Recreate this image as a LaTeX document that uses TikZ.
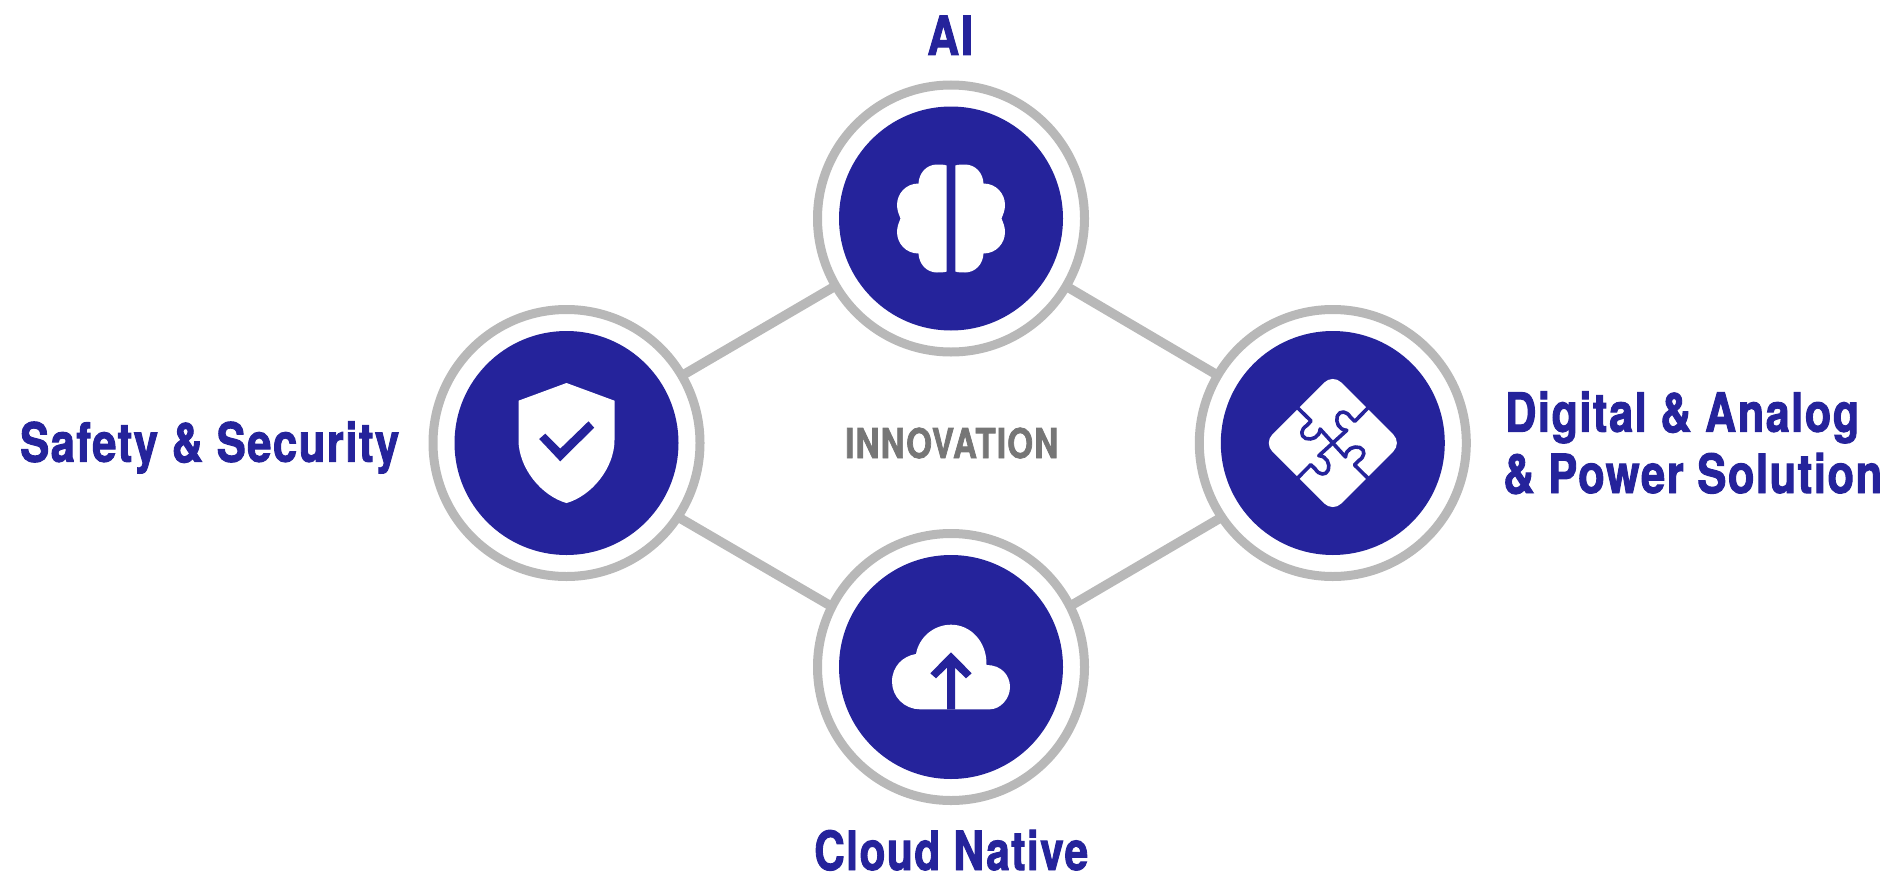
\documentclass[tikz,border=0pt]{standalone}
\usepackage{fontspec}
\usepackage{graphicx}
\usetikzlibrary{backgrounds}
\newfontfamily\labfont[UprightFont=* Bold,FakeStretch=0.84,LetterSpace=3,FakeBold=1.8]{TeX Gyre Heros}
\definecolor{chipblue}{HTML}{25239B}
\definecolor{ringgray}{HTML}{B8B8B8}
\definecolor{textgray}{HTML}{767676}
\newcommand{\fitlabel}[2]{\resizebox{#1pt}{\height}{#2}}
\tikzset{
  ringnode/.style={circle,draw=ringgray,fill=white,line width=9pt,minimum size=267pt,inner sep=0pt},
  discnode/.style={circle,fill=chipblue,minimum size=224pt,inner sep=0pt},
  linkline/.style={draw=ringgray,line width=9.5pt},
  iconwhite/.style={fill=white},
  iconblue/.style={fill=chipblue},
  iconcut/.style={draw=chipblue,line width=3.6pt,line join=round},
  bluelabel/.style={text=chipblue,anchor=base west,inner sep=0pt,font=\labfont\fontsize{54}{54}\selectfont},
  greylabel/.style={text=textgray,anchor=base west,inner sep=0pt,font=\labfont\fontsize{41}{41}\selectfont}
}
\begin{document}
\begin{tikzpicture}[x=1pt,y=-1pt]
\useasboundingbox (0,0) rectangle (1884,875);
% rings and discs
\node[ringnode] (ai) at (951,218.5) {};
\node[ringnode] (safety) at (566.5,443) {};
\node[ringnode] (digital) at (1332.8,443) {};
\node[ringnode] (cloud) at (951,667) {};
\node[discnode] (aidisc) at (ai.center) {};
\node[discnode] (safetydisc) at (safety.center) {};
\node[discnode] (digitaldisc) at (digital.center) {};
\node[discnode] (clouddisc) at (cloud.center) {};
% connectors
\begin{pgfonlayer}{background}
\draw[linkline] (safety.center) -- (ai.center);
\draw[linkline] (ai.center) -- (digital.center);
\draw[linkline] ([yshift=-9pt]safety.center) -- ([yshift=-9pt]cloud.center);
\draw[linkline] ([yshift=-9pt]cloud.center) -- ([yshift=-9pt]digital.center);
\end{pgfonlayer}
% brain
\begin{scope}[shift={(aidisc.center)}]
\foreach \m in {1,-1}{
\fill[iconwhite,xscale=\m] (4.3,-53) .. controls (7,-54) and (11,-54) .. (14,-54)
  .. controls (24,-54) and (32,-46) .. (32.5,-35)
  .. controls (45,-35) and (54,-25) .. (54,-13.5)
  .. controls (54,-8) and (52,-4) .. (50.5,0)
  .. controls (52,4) and (54,8) .. (54,13.5)
  .. controls (54,25) and (45,35) .. (32.5,35)
  .. controls (32,46) and (24,54) .. (14,54)
  .. controls (11,54) and (7,54) .. (4.3,53) -- cycle;
}
\end{scope}
% shield
\begin{scope}[shift={(safetydisc.center)}]
\fill[iconwhite] (0,-60) -- (48,-42.3) -- (48,-3)
  .. controls (48,25) and (25,53) .. (0,60)
  .. controls (-25,53) and (-48,25) .. (-48,-3) -- (-48,-42.3) -- cycle;
\fill[iconblue] (-27.3,-4) -- (-21.3,-9.3) -- (-6.3,5.7) -- (22,-21.7) -- (27.7,-15.3) -- (-6.3,18.3) -- cycle;
\end{scope}
% puzzle
\begin{scope}[shift={(digitaldisc.center)}]
\fill[iconwhite,rounded corners=12pt] (0,-69) -- (69,0) -- (0,69) -- (-69,0) -- cycle;
\foreach \a in {0,90,180,270}{
\draw[iconcut,rotate=\a] (-37,-37) -- (-21.7,-22) -- (-26,-17.5)
  .. controls (-32,-14) and (-33,-7) .. (-27,-4.5)
  .. controls (-21,-2.5) and (-13,-6) .. (-12.7,-14) -- (0,0);
}
\end{scope}
% cloud
\begin{scope}[shift={(clouddisc.center)}]
\fill[iconwhite] (-31,42.3) .. controls (-46.3,42.3) and (-59,30) .. (-59,14.6)
  .. controls (-59,-0.7) and (-48,-11) .. (-35,-13)
  .. controls (-32,-30) and (-17,-42.3) .. (0,-42.3)
  .. controls (20,-42.3) and (36,-25) .. (35.5,-2)
  .. controls (50,-2) and (59,8) .. (59,20)
  .. controls (59,32) and (49,42.3) .. (39,42.3) -- cycle;
\fill[iconblue] (0,-14.7) -- (20.7,6.3) -- (15,11.3) -- (4,0.7) -- (4,42.3) -- (-4,42.3) -- (-4,0.7) -- (-15,11.3) -- (-20.7,6.3) -- cycle;
\end{scope}
% labels
\node[bluelabel] (lai) at (927,55) {\fitlabel{46}{AI}};
\node[bluelabel] (lsafety) at (20,461.7) {\fitlabel{379}{Safety \& Security}};
\node[bluelabel] (ldigitala) at (1505,431.7) {\fitlabel{354}{Digital \& Analog}};
\node[bluelabel] (ldigitalb) at (1503,493) {\fitlabel{379}{\& Power Solution}};
\node[bluelabel] (lcloud) at (814,870) {\fitlabel{274}{Cloud Native}};
\node[greylabel] (linno) at (845,458) {\fitlabel{213}{INNOVATION}};
\end{tikzpicture}
\end{document}
